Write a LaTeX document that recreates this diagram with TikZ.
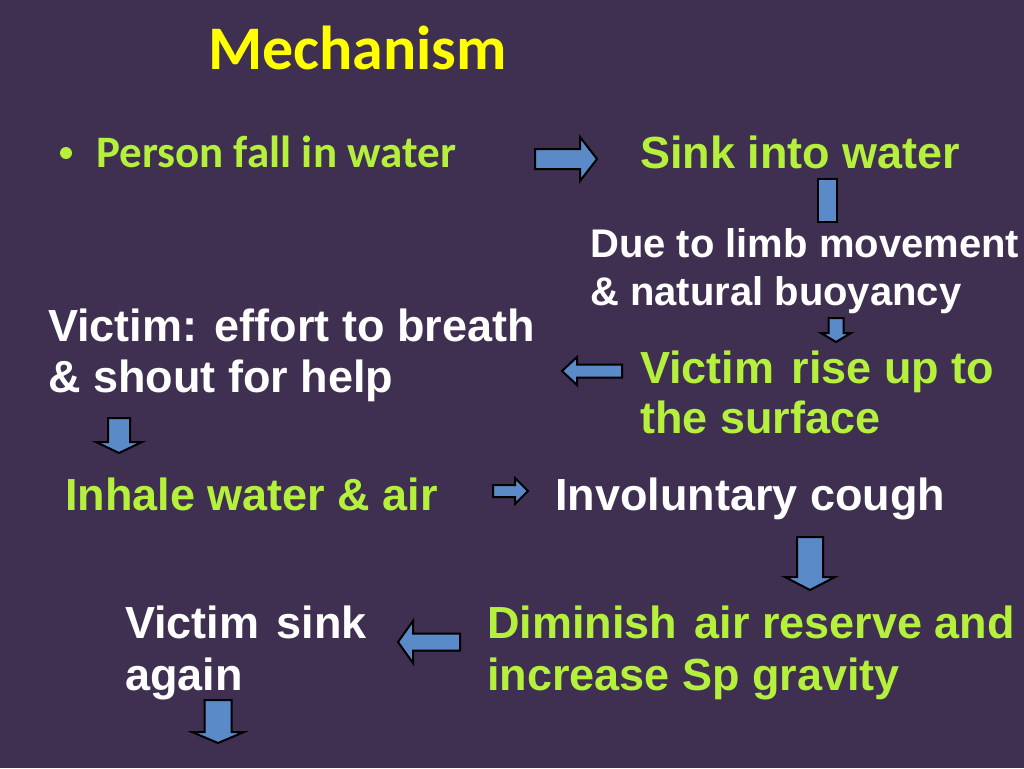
\documentclass[tikz,border=0pt]{standalone}
\usepackage{fontspec}
\setmainfont{Liberation Sans}
\newfontfamily\calib{Carlito}
\definecolor{bgc}{HTML}{3F2F50}
\definecolor{lime}{HTML}{B4F03C}
\definecolor{ttl}{HTML}{FFFF00}
\definecolor{arrf}{HTML}{5A8AC8}
\newcommand\rarr[6]{\draw[barrow] (#1,#3-#4) -- (#2-#6,#3-#4) -- (#2-#6,#3-#5) -- (#2,#3) -- (#2-#6,#3+#5) -- (#2-#6,#3+#4) -- (#1,#3+#4) -- cycle;}
\newcommand\larr[6]{\draw[barrow] (#1,#3-#4) -- (#2+#6,#3-#4) -- (#2+#6,#3-#5) -- (#2,#3) -- (#2+#6,#3+#5) -- (#2+#6,#3+#4) -- (#1,#3+#4) -- cycle;}
\newcommand\darr[6]{\draw[barrow] (#1-#4,#2) -- (#1-#4,#3-#6) -- (#1-#5,#3-#6) -- (#1,#3) -- (#1+#5,#3-#6) -- (#1+#4,#3-#6) -- (#1+#4,#2) -- cycle;}
\newcommand\wsp{\ \hspace{5pt}}
\begin{document}
\begin{tikzpicture}[x=1pt,y=-1pt,
  txt/.style={anchor=base west,inner sep=0pt,font=\fontsize{45}{51}\selectfont\bfseries},
  gtxt/.style={txt,text=lime},
  wtxt/.style={txt,text=white},
  stxt/.style={anchor=base west,inner sep=0pt,text=white,font=\fontsize{40}{48}\selectfont\bfseries},
  barrow/.style={fill=arrf,draw=black,line width=2pt,line join=miter}]
\fill[bgc] (0,0) rectangle (1024,768);
\useasboundingbox (0,0) rectangle (1024,768);
% title
\node[anchor=base west,inner sep=0pt,text=ttl,font=\calib\fontsize{62}{70}\selectfont\bfseries] (title) at (208,70) {Mechanism};
% texts
\fill[lime] (66,153) circle (6);
\node[gtxt,font=\calib\fontsize{45}{51}\selectfont\bfseries] (fall) at (96,167) {Person fall in water};
\node[gtxt] (sink) at (640,168) {Sink into water};
\node[stxt] (due1) at (590,257) {Due to limb movement};
\node[stxt] (due2) at (590,305) {\& natural buoyancy};
\node[wtxt] (eff1) at (48,341) {Victim:\wsp effort to breath};
\node[wtxt] (eff2) at (48,392) {\& shout for help};
\node[gtxt] (rise1) at (640,383) {Victim\wsp rise up to};
\node[gtxt] (rise2) at (640,433) {the surface};
\node[gtxt] (inh) at (65,510) {Inhale water \& air};
\node[wtxt] (cough) at (555,510) {Involuntary cough};
\node[wtxt] (vs1) at (125,638) {Victim\wsp sink};
\node[wtxt] (vs2) at (125,690) {again};
\node[gtxt] (dim1) at (487,638) {Diminish\wsp air reserve and};
\node[gtxt] (dim2) at (487,690) {increase Sp gravity};
% block arrows
\rarr{535}{597}{159}{10}{22}{17}
\draw[barrow] (818,179) rectangle (837,222);
\darr{836}{318}{342}{7.5}{15}{9}
\larr{622}{562}{371}{6.5}{14}{15}
\darr{119}{418}{453}{11}{23}{11}
\rarr{493}{528}{491}{6}{13}{13}
\darr{810}{537}{590}{13}{25}{13}
\larr{460}{398}{642}{8.5}{21}{15}
\darr{218}{700}{743}{13.5}{26}{11}
\end{tikzpicture}
\end{document}
